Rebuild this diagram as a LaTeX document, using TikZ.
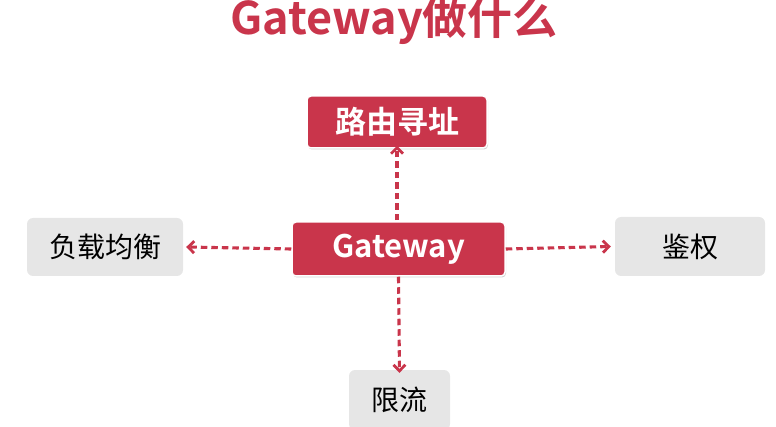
\documentclass[tikz,border=0pt]{standalone}
\usepackage{fontspec}
\newfontfamily\cjk{Noto Sans CJK SC}
\newfontfamily\cjkb{Noto Sans CJK SC Bold}
\usetikzlibrary{arrows.meta,shadows}
\definecolor{gwred}{HTML}{C9354B}
\definecolor{boxgray}{HTML}{E6E6E6}
\tikzset{
  redbox/.style={draw=white,line width=1.5pt,fill=gwred,rounded corners=4pt,
    text=white,font=\cjkb\fontsize{31}{36}\selectfont,inner sep=0pt,
    drop shadow={shadow xshift=1pt,shadow yshift=-1.5pt,opacity=0.35}},
  graybox/.style={fill=boxgray,rounded corners=6pt,text=black,
    font=\cjk\fontsize{28}{34}\selectfont,inner sep=0pt},
  link/.style={draw=gwred,line width=3.1pt,dash pattern=on 6.5pt off 4pt,
    -{Straight Barb[length=6pt,width=12pt,line width=2.8pt]}}
}
\begin{document}
\begin{tikzpicture}[x=1pt,y=-1pt]
\useasboundingbox (0,0) rectangle (776,427);
\node[inner sep=0pt,text height=30pt,text depth=8pt,anchor=base] (title) at (394,35) [text=gwred,font=\cjkb\fontsize{45}{50}\selectfont] {Gateway做什么};
\node[redbox,minimum width=180pt,minimum height=52pt] (route) at (397,122) {路由寻址};
\node[redbox,minimum width=213pt,minimum height=54pt] (gw) at (398.5,249) {Gateway};
\node[graybox,minimum width=156pt,minimum height=58pt] (lb) at (105,247) {负载均衡};
\node[graybox,minimum width=150pt,minimum height=59pt] (auth) at (690,246.5) {鉴权};
\node[graybox,minimum width=101pt,minimum height=60pt] (limit) at (399.5,400) {限流};
\draw[link] (gw.north -| route.south) ++(0,-1) -- ([yshift=3pt]route.south);
\draw[link] (gw.west) -- ([xshift=3pt]lb.east);
\draw[link] (gw.east) -- ([xshift=-4pt]auth.west);
\draw[link] (gw.south) -- ([yshift=-3pt]limit.north);
\end{tikzpicture}
\end{document}
